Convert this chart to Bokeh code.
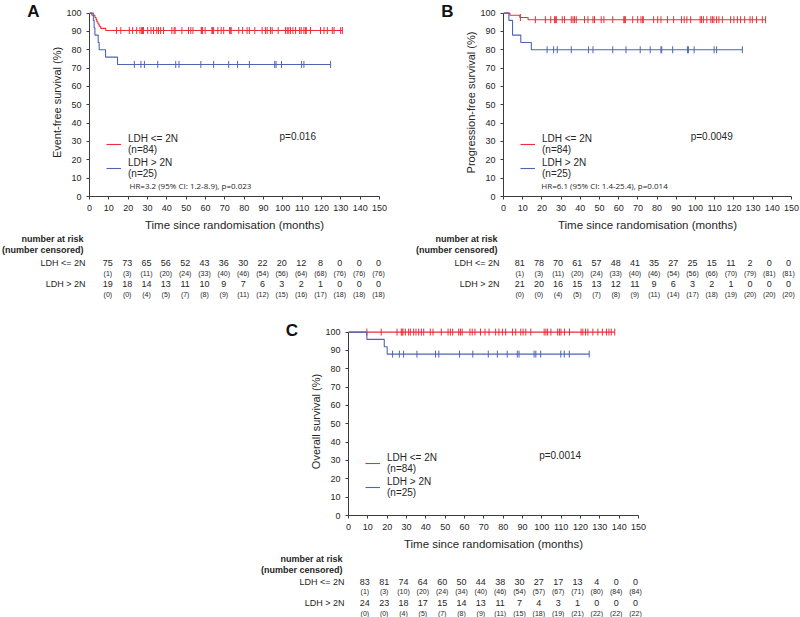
import numpy as np
from bokeh.plotting import figure
from bokeh.layouts import column, row
from bokeh.models import Range1d, FixedTicker, Legend, LegendItem, Label
from bokeh.core.properties import value
from bokeh.embed import file_html
from bokeh.resources import INLINE

FONT = "Liberation Sans"
RED = "#ee2d38"
BLUE = "#4d65b3"
TXT = "#262626"
AX = "#3c3c3c"

# ---------------- data ----------------
x_ticks = [0, 10, 20, 30, 40, 50, 60, 70, 80, 90, 100, 110, 120, 130, 140, 150]
y_ticks = [0, 10, 20, 30, 40, 50, 60, 70, 80, 90, 100]
risk_positions = [10, 20, 30, 40, 50, 60, 70, 80, 90, 100, 110, 120, 130, 140, 150]

# Panel A: event-free survival
A_red_event_t = [1.2, 2.8, 3.4, 3.8, 4.4, 5.0, 5.8, 8.4]
A_red_surv = [98.81, 97.62, 96.43, 95.24, 94.05, 92.86, 91.67, 90.48]
A_red_end = 131.0
A_red_cens = [14.0, 16.2, 20.6, 22.3, 24.4, 26.1, 27.0, 27.4, 27.9, 30.1, 31.8, 33.1, 34.8,
              35.7, 36.8, 38.3, 42.6, 43.8, 44.3, 47.8, 51.2, 52.4, 53.5, 57.8, 58.1, 58.5,
              59.8, 63.3, 63.7, 64.2, 66.4, 68.1, 69.4, 72.5, 72.8, 73.3, 77.2, 79.2, 81.5,
              82.7, 85.5, 89.3, 91.0, 91.9, 93.6, 94.5, 97.6, 101.4, 102.3, 103.1, 104.0,
              105.2, 106.6, 108.7, 109.5, 110.9, 111.8, 112.1, 114.3, 119.5, 121.3, 123.0,
              125.6, 126.5, 129.9, 130.8]
A_blue_event_t = [2.0, 2.4, 2.8, 4.5, 5.0, 8.3, 14.5]
A_blue_surv = [96, 92, 88, 84, 80, 76, 72]
A_blue_end = 124.7
A_blue_cens = [23.2, 26.6, 28.4, 35.3, 44.6, 46.3, 57.6, 64.2, 72.0, 76.6, 82.7, 95.8, 96.5,
               99.3, 109.7, 110.9, 124.7]
A_risk_low = [75, 73, 65, 56, 52, 43, 36, 30, 22, 20, 12, 8, 0, 0, 0]
A_cens_low = [1, 3, 11, 20, 24, 33, 40, 46, 54, 56, 64, 68, 76, 76, 76]
A_risk_high = [19, 18, 14, 13, 11, 10, 9, 7, 6, 3, 2, 1, 0, 0, 0]
A_cens_high = [0, 0, 4, 5, 7, 8, 9, 11, 12, 15, 16, 17, 18, 18, 18]

# Panel B: progression-free survival
B_red_event_t = [3.3, 8.5, 12.8]
B_red_surv = [98.8, 97.6, 96.4]
B_red_end = 136.5
B_red_cens = [8.8, 16.6, 21.8, 24.6, 26.6, 27.2, 27.5, 30.6, 31.8, 35.3, 36.2, 37.0, 37.9,
              42.2, 44.0, 46.6, 47.4, 50.9, 52.3, 56.9, 62.7, 62.9, 63.5, 67.3, 69.9, 71.6,
              72.5, 72.8, 78.2, 80.3, 82.0, 85.4, 88.6, 92.7, 94.1, 95.5, 97.5, 102.4, 103.1,
              104.1, 105.9, 108.0, 108.8, 109.6, 111.0, 112.2, 114.0, 118.3, 120.0, 121.8,
              123.5, 125.6, 128.4, 129.6, 131.8, 134.8, 136.5]
B_blue_event_t = [2.8, 4.7, 9.0, 14.5]
B_blue_surv = [96, 88, 84, 80]
B_blue_end = 124.4
B_blue_cens = [22.7, 26.1, 28.0, 35.3, 44.3, 46.6, 56.9, 63.8, 71.2, 76.4, 82.0, 82.4, 88.1,
               95.8, 96.3, 99.3, 109.7, 111.0, 124.4]
B_risk_low = [81, 78, 70, 61, 57, 48, 41, 35, 27, 25, 15, 11, 2, 0, 0]
B_cens_low = [1, 3, 11, 20, 24, 33, 40, 46, 54, 56, 66, 70, 79, 81, 81]
B_risk_high = [21, 20, 16, 15, 13, 12, 11, 9, 6, 3, 2, 1, 0, 0, 0]
B_cens_high = [0, 0, 4, 5, 7, 8, 9, 11, 14, 17, 18, 19, 20, 20, 20]

# Panel C: overall survival
C_red_event_t = []
C_red_surv = []
C_red_end = 137.7
C_red_cens = [9.5, 16.9, 25.1, 27.3, 27.7, 28.2, 29.4, 31.1, 32.0, 33.7, 34.9, 36.3, 37.7,
              38.9, 42.3, 43.7, 48.0, 51.5, 52.7, 53.9, 57.0, 57.9, 58.8, 62.8, 64.0, 65.4,
              68.3, 70.6, 72.7, 76.1, 77.8, 79.6, 81.3, 84.8, 86.5, 89.1, 90.3, 91.7, 94.3,
              101.2, 102.1, 103.0, 104.7, 108.2, 109.1, 109.9, 111.7, 114.3, 120.3, 121.2,
              122.6, 123.8, 126.4, 129.0, 131.3, 133.4, 134.7, 135.9, 137.7]
C_blue_event_t = [9.5, 18.5, 20.0]
C_blue_surv = [96, 92, 88]
C_blue_end = 124.5
C_blue_cens = [22.8, 26.3, 28.5, 35.4, 45.0, 46.7, 57.4, 64.3, 72.3, 77.0, 82.1, 87.3, 88.2,
               96.0, 96.9, 99.4, 109.8, 111.6, 114.2, 124.5]
C_risk_low = [83, 81, 74, 64, 60, 50, 44, 38, 30, 27, 17, 13, 4, 0, 0]
C_cens_low = [1, 3, 10, 20, 24, 34, 40, 46, 54, 57, 67, 71, 80, 84, 84]
C_risk_high = [24, 23, 18, 17, 15, 14, 13, 11, 7, 4, 3, 1, 0, 0, 0]
C_cens_high = [0, 0, 4, 5, 7, 8, 9, 11, 15, 18, 19, 21, 22, 22, 22]

group_labels = ["LDH <= 2N", "LDH > 2N"]
legend_labels = ["LDH <= 2N\n(n=84)", "LDH > 2N\n(n=25)"]

# ---------------- helpers ----------------
FRAME_H = 188
Y_TOP = 102.5
W = 800


def surv_at(times, surv, t):
    s = 100.0
    for ti, si in zip(times, surv):
        if ti <= t:
            s = si
    return s


def blank_fig(w, h, x_range=None):
    f = figure(frame_width=w, frame_height=h, min_border=0, min_border_left=0,
               min_border_right=0, min_border_top=0, min_border_bottom=0,
               x_range=x_range if x_range is not None else Range1d(0, w),
               y_range=Range1d(h, 0),
               x_axis_location=None, y_axis_location=None,
               title=None, toolbar_location=None, tools="", output_backend="svg")
    f.grid.visible = False
    f.outline_line_color = None
    f.background_fill_color = None
    f.border_fill_color = None
    return f


def letter_fig(w, h, letter, lx, ly):
    f = blank_fig(w, h)
    f.text(x=[lx], y=[ly], text=[letter], text_font=value(FONT), text_font_style="bold",
           text_font_size="17px", text_color="#111111", text_align="center",
           text_baseline="middle")
    return f


def km_fig(left, fw, right, top, ylabel, curves, ptext, ptext_x, hr_text, hr_x):
    p = figure(frame_width=fw, frame_height=FRAME_H,
               min_border_left=left, min_border_right=right,
               min_border_top=top, min_border_bottom=36,
               x_range=Range1d(0, 150), y_range=Range1d(0, Y_TOP),
               title=None, toolbar_location=None, tools="", output_backend="svg")
    p.grid.visible = False
    p.outline_line_color = None
    p.background_fill_color = None
    p.border_fill_color = None
    for ax in (p.xaxis[0], p.yaxis[0]):
        ax.axis_line_color = AX
        ax.major_tick_line_color = AX
        ax.minor_tick_line_color = None
        ax.major_tick_in = 0
        ax.major_tick_out = 3
        ax.major_label_text_font = FONT
        ax.major_label_text_font_size = "9px"
        ax.major_label_text_color = TXT
        ax.axis_label_text_font = FONT
        ax.axis_label_text_font_style = "normal"
        ax.axis_label_text_color = TXT
    p.xaxis.ticker = FixedTicker(ticks=x_ticks)
    p.yaxis.ticker = FixedTicker(ticks=y_ticks)
    p.yaxis.bounds = (0, 100)
    p.xaxis.major_label_standoff = 5
    p.yaxis.major_label_standoff = 5
    p.xaxis.axis_label = "Time since randomisation (months)"
    p.xaxis.axis_label_text_font_size = "11.5px"
    p.xaxis.axis_label_standoff = 5
    p.yaxis.axis_label = ylabel
    p.yaxis.axis_label_text_font_size = "11px"
    p.yaxis.axis_label_standoff = 0

    rends = []
    for (ev_t, ev_s, t_end, cens, color) in curves:
        xs = [0] + list(ev_t) + [t_end]
        ys = [100] + list(ev_s) + [ev_s[-1] if ev_s else 100]
        r = p.step(xs, ys, mode="after", line_color=color, line_width=1.1)
        rends.append(r)
        cy = [surv_at(ev_t, ev_s, t) for t in cens]
        p.scatter(cens, cy, marker="dash", angle=np.pi / 2, size=7,
                  line_color=color, line_width=1)

    leg = Legend(items=[LegendItem(label=value(legend_labels[i]), renderers=[rends[i]])
                        for i in range(2)],
                 location=(17, 16), glyph_width=15, glyph_height=24, label_height=24,
                 label_standoff=7, spacing=0, padding=0, margin=0,
                 border_line_color=None, background_fill_alpha=0,
                 label_text_font=FONT, label_text_font_size="10px",
                 label_text_color=TXT, label_text_line_height=1.3)
    p.add_layout(leg)

    p.add_layout(Label(x=ptext_x, y=32.7, text=ptext, text_font=FONT,
                       text_font_size="10px", text_color=TXT, text_baseline="middle"))
    if hr_text:
        p.add_layout(Label(x=hr_x, y=6.0, text=hr_text, text_font="Open Sans",
                           text_font_size="8px", text_color=TXT, text_baseline="middle"))
    return p


def add_risk_table(f, rows_y, risk_low, cens_low, risk_high, cens_high, xoff, rng="default"):
    f.text(x=[0, 0], y=[rows_y[0], rows_y[1]], text=["number at risk", "(number censored)"],
           text_font=value(FONT), text_font_style="bold", text_font_size="9px",
           text_color=TXT, text_align="right", text_baseline="middle", x_offset=-5,
           x_range_name=rng)
    f.text(x=[0, 0], y=[rows_y[2], rows_y[4]], text=group_labels,
           text_font=value(FONT), text_font_size="9px",
           text_color=TXT, text_align="right", text_baseline="middle", x_offset=-3,
           x_range_name=rng)
    for vals, yy, size, paren in ((risk_low, rows_y[2], "9px", False),
                                  (cens_low, rows_y[3], "7px", True),
                                  (risk_high, rows_y[4], "9px", False),
                                  (cens_high, rows_y[5], "7px", True)):
        txt = [("(%d)" % v) if paren else str(v) for v in vals]
        f.text(x=risk_positions, y=[yy] * len(vals), text=txt,
               text_font=value(FONT), text_font_size=size, text_color=TXT,
               text_align="center", text_baseline="middle", x_offset=xoff,
               x_range_name=rng)


def time_range(frame_left_px, frame_w_px, total_w):
    ppu = frame_w_px / 150.0
    return Range1d(-frame_left_px / ppu, (total_w - frame_left_px) / ppu)


# Row 1: panels A and B (height 232)
letA = letter_fig(48, 232, "A", 33, 11)
kmA = km_fig(40, 290, 22, 8, "Event-free survival (%)",
             [(A_red_event_t, A_red_surv, A_red_end, A_red_cens, RED),
              (A_blue_event_t, A_blue_surv, A_blue_end, A_blue_cens, BLUE)],
             "p=0.016", 98.3, "HR=3.2 (95% CI: 1.2-8.9), p=0.023", 20.7)
letB = letter_fig(60, 232, "B", 46, 11)
kmB = km_fig(42, 288, 10, 8, "Progression-free survival (%)",
             [(B_red_event_t, B_red_surv, B_red_end, B_red_cens, RED),
              (B_blue_event_t, B_blue_surv, B_blue_end, B_blue_cens, BLUE)],
             "p=0.0049", 97.5, "HR=6.1 (95% CI: 1.4-25.4), p=0.014", 19.7)

# Row 2: risk tables A and B in one strip (height 70), each on its panel's time scale
rowsAB = [5, 16, 29, 39.5, 50.5, 60.5]
rAB = blank_fig(W, 70, x_range=time_range(88, 290, W))
rAB.extra_x_ranges = {"B": time_range(502, 288, W)}
add_risk_table(rAB, rowsAB, A_risk_low, A_cens_low, A_risk_high, A_cens_high, 0)
add_risk_table(rAB, rowsAB, B_risk_low, B_cens_low, B_risk_high, B_cens_high, -2, rng="B")

# Row 3: panel C (height 248)
letC = letter_fig(307, 248, "C", 291.5, 27)
kmC = km_fig(40, 290, 163, 24, "Overall survival (%)",
             [(C_red_event_t, C_red_surv, C_red_end, C_red_cens, RED),
              (C_blue_event_t, C_blue_surv, C_blue_end, C_blue_cens, BLUE)],
             "p=0.0014", 98.6, None, 0)

# Row 4: risk table C (height 65)
rowsC = [6.5, 17.5, 29, 39, 50.5, 60.5]
rC = blank_fig(W, 65, x_range=time_range(347, 290, W))
add_risk_table(rC, rowsC, C_risk_low, C_cens_low, C_risk_high, C_cens_high, -2)

layout = column(
    row(column(letA), column(kmA), column(letB), column(kmB)),
    row(column(rAB)),
    row(column(letC), column(kmC)),
    row(column(rC)),
)

with open("out.html", "w") as fh:
    fh.write(file_html(layout, INLINE))
